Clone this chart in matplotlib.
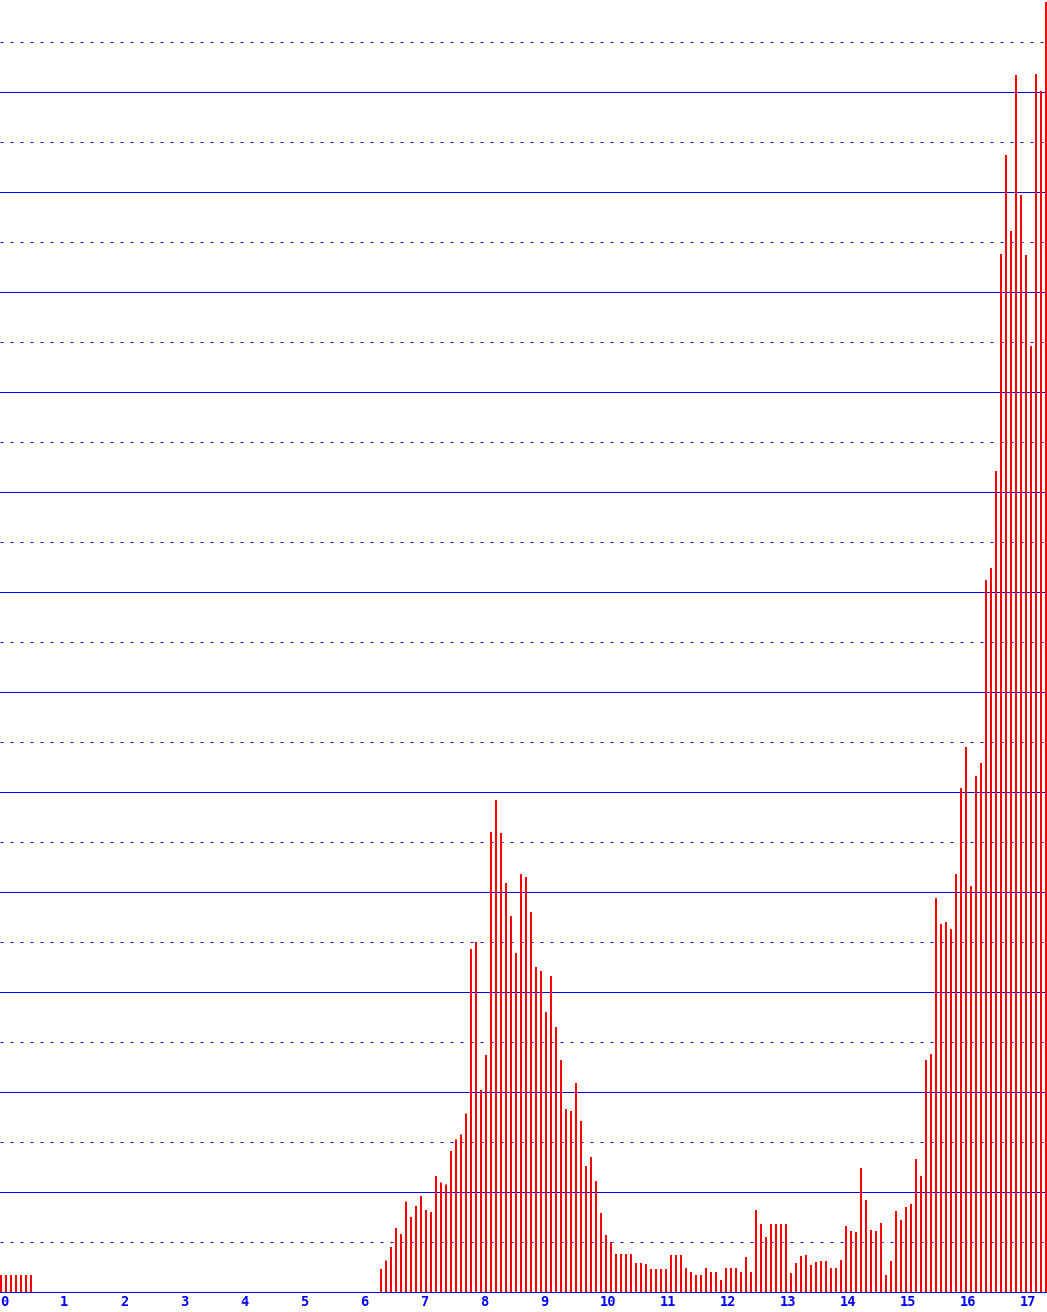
import numpy as np
import matplotlib
matplotlib.use('Agg')
import matplotlib.pyplot as plt

# one bar every 5 minutes, x axis in hours
hour_labels = [str(h) for h in range(18)]

early = [17, 17, 17, 17, 17, 17, 17]          # 00:00 - 00:30
gap = [0] * 69                                 # nothing until 06:20
morning = [23, 31.5, 45, 64, 58, 90.5, 75, 86, 96, 82, 80, 116,
           109.5, 107.5, 141, 152.5, 157.6, 178.6, 343, 350, 202, 237, 460, 492,
           459, 409, 376, 339, 418, 415, 380, 325, 321, 280, 316, 265,
           232, 183, 181, 209, 171, 126, 135, 111, 79, 57, 50, 38]
midday = [38, 38, 38, 29, 29, 28, 23, 23, 23, 23, 37, 37,
          37, 24, 20, 17, 17, 24, 20, 20, 12, 24, 24, 24,
          20, 35, 20, 82, 68, 55, 68, 68, 68, 68, 19, 29,
          36, 37, 27, 30, 31, 31, 24, 24, 32, 66, 61, 60,
          124, 92, 62, 61, 69, 17, 31, 81, 72, 85]
evening = [88, 133, 116, 232, 238, 394, 368, 370, 363, 418, 504, 545,
           406, 516, 529, 712, 724, 821, 1038, 1137, 1061, 1217, 1097, 1037,
           946, 1218, 1201, 1290]

values = np.array(early + gap + morning + midday + evening, dtype=float)
hours = np.arange(len(values)) / 12.0

W, H = 1047, 1312
fig = plt.figure(figsize=(W / 100, H / 100), dpi=100)
ax = fig.add_axes([0, 20 / H, 1, 1292 / H])

px = 0.72  # one pixel in points
bars = ax.bar(hours, values, width=2 / 60, align='edge', color='#ff0000',
              linewidth=0, zorder=3)
for b in bars:
    b.set_snap(False)

ax.set_xlim(0, W / 60)
ax.set_ylim(0, 1292)

ax.set_yticks(np.arange(100, 1201, 100))
ax.set_yticks(np.arange(50, 1251, 100), minor=True)
ax.grid(which='major', axis='y', color='#0000ff', linewidth=px)
ax.grid(which='minor', axis='y', color='#0000ff', linewidth=px,
        linestyle=(0, (3, 7)))
ax.set_axisbelow(True)
ax.tick_params(axis='y', which='both', left=False, labelleft=False)

for side in ['left', 'right', 'top']:
    ax.spines[side].set_visible(False)
ax.spines['bottom'].set_color('#0000ff')
ax.spines['bottom'].set_linewidth(px)

ax.set_xticks(range(18))
ax.set_xticklabels(hour_labels, family='DejaVu Sans Mono', weight='bold',
                   fontsize=9.8, color='#0000ff', ha='left')
ax.tick_params(axis='x', length=0, pad=2)

fig.savefig('out.png', dpi=100)
